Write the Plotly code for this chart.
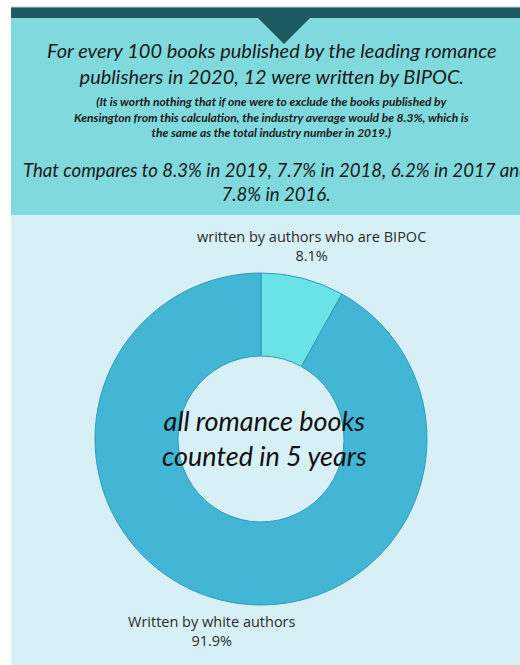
import plotly.graph_objects as go

# Share of romance books by author group (five-year total)
groups = ["written by authors who are BIPOC", "Written by white authors"]
shares = [8.1, 91.9]
slice_colors = ["#6ae3e6", "#42b6d4"]

headline = ("For every 100 books published by the leading romance<br>"
            "publishers in 2020, 12 were written by BIPOC.")
footnote = ("(It is worth nothing that if one were to exclude the books published by<br>"
            "Kensington from this calculation, the industry average would be 8.3%, which is<br>"
            "the same as the total industry number in 2019.)")
comparison = ("That compares to 8.3% in 2019, 7.7% in 2018, 6.2% in 2017 and<br>"
              "7.8% in 2016.")
center_text = "all romance books<br>counted in 5 years"

W, H = 520, 665


def px(x):
    return x / W


def py(y):
    return 1 - y / H


cx, cy, r = 261, 439, 166

fig = go.Figure(go.Pie(
    labels=groups,
    values=shares,
    hole=0.5,
    sort=False,
    direction="clockwise",
    rotation=0,
    textinfo="none",
    hoverinfo="label+percent",
    marker=dict(colors=slice_colors, line=dict(color="#2f9cbc", width=1)),
    domain=dict(x=[px(cx - r), px(cx + r)], y=[py(cy + r), py(cy - r)]),
    showlegend=False,
))

shapes = [
    # page panels
    dict(type="rect", x0=px(11), x1=1, y0=py(665), y1=py(215),
         fillcolor="#d7f0f5", line_width=0, layer="below"),
    dict(type="rect", x0=px(11), x1=1, y0=py(215), y1=py(18),
         fillcolor="#80d9dd", line_width=0, layer="below"),
    dict(type="rect", x0=px(11), x1=1, y0=py(18), y1=py(7),
         fillcolor="#1e5b60", line_width=0, layer="below"),
    dict(type="line", x0=px(11), x1=1, y0=py(7), y1=py(7),
         line=dict(color="#c9cfd0", width=1), layer="below"),
    dict(type="path",
         path=f"M {px(257)} {py(17)} L {px(311)} {py(17)} L {px(284)} {py(44)} Z",
         fillcolor="#1e5b60", line_width=0, layer="below"),
]

pct = [f"{v:.1f}%" for v in shares]
head_font = "Lato, 'Noto Sans', sans-serif"
label_font = "'Open Sans', 'Noto Sans', sans-serif"

annotations = [
    dict(x=px(272), y=py(63), text=f"<i>{headline}</i>", showarrow=False,
         xref="paper", yref="paper", xanchor="center", yanchor="middle",
         font=dict(family=head_font, size=20, color="#1a1a1a"), align="center"),
    dict(x=px(271), y=py(117), text=f"<b><i>{footnote}</i></b>", showarrow=False,
         xref="paper", yref="paper", xanchor="center", yanchor="middle",
         font=dict(family=head_font, size=12, color="#1a1a1a"), align="center"),
    dict(x=px(276), y=py(182), text=f"<i>{comparison}</i>", showarrow=False,
         xref="paper", yref="paper", xanchor="center", yanchor="middle",
         font=dict(family=head_font, size=18.6, color="#1a1a1a"), align="center"),
    dict(x=px(311), y=py(246), text=f"{groups[0]}<br>{pct[0]}", showarrow=False,
         xref="paper", yref="paper", xanchor="center", yanchor="middle",
         font=dict(family=label_font, size=14.5, color="#2b2b2b"), align="center"),
    dict(x=px(212), y=py(631), text=f"{groups[1]}<br>{pct[1]}", showarrow=False,
         xref="paper", yref="paper", xanchor="center", yanchor="middle",
         font=dict(family=label_font, size=14.5, color="#2b2b2b"), align="center"),
    dict(x=px(264), y=py(438), text=f"<i>{center_text}</i>", showarrow=False,
         xref="paper", yref="paper", xanchor="center", yanchor="middle",
         font=dict(family=head_font, size=27, color="#111111"), align="center"),
]

fig.update_layout(
    width=W, height=H,
    margin=dict(l=0, r=0, t=0, b=0),
    paper_bgcolor="white",
    plot_bgcolor="white",
    shapes=shapes,
    annotations=annotations,
)

fig.write_html("out.html")
